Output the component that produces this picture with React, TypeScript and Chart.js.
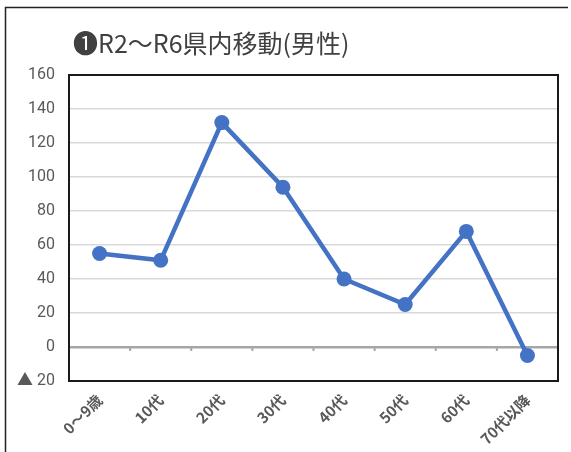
import React, { useEffect, useRef } from "react";
import { Chart, registerables } from "chart.js";

Chart.register(...registerables);

const titleText = "❶R2～R6県内移動(男性)";
const categories = ["0～9歳", "10代", "20代", "30代", "40代", "50代", "60代", "70代以降"];
const values = [55, 51, 132, 94, 40, 25, 68, -5];
const yMin = -20;
const yMax = 160;
const yStep = 20;

const framePlugin = {
  id: "framePlugin",
  beforeDraw(chart: any) {
    const ctx = chart.ctx;
    ctx.save();
    ctx.fillStyle = "#ffffff";
    ctx.fillRect(0, 0, chart.width, chart.height);
    ctx.strokeStyle = "#222222";
    ctx.lineWidth = 1.5;
    ctx.beginPath();
    ctx.moveTo(5.5, chart.height);
    ctx.lineTo(5.5, 7.5);
    ctx.lineTo(568, 7.5);
    ctx.stroke();
    ctx.fillStyle = "#404040";
    ctx.font = '25px "Noto Sans CJK JP", sans-serif';
    ctx.textBaseline = "alphabetic";
    ctx.fillText(titleText, 73, 53);
    ctx.restore();
  },
  beforeDatasetsDraw(chart: any) {
    const ctx = chart.ctx;
    const { left, top, right, bottom } = chart.chartArea;
    const xs = chart.scales.x;
    const ys = chart.scales.y;
    const y0 = ys.getPixelForValue(0);
    const half = (xs.getPixelForValue(1) - xs.getPixelForValue(0)) / 2;
    ctx.save();
    ctx.strokeStyle = "#a6a6a6";
    ctx.lineWidth = 2;
    for (let i = 0; i <= categories.length; i++) {
      const x = xs.getPixelForValue(0) - half + i * half * 2;
      ctx.beginPath();
      ctx.moveTo(x, y0);
      ctx.lineTo(x, y0 + 4);
      ctx.stroke();
    }
    ctx.strokeStyle = "#1a1a1a";
    ctx.lineWidth = 2;
    ctx.strokeRect(left, top, right - left, bottom - top);
    ctx.restore();
  },
};

export default function App() {
  const ref = useRef<HTMLCanvasElement | null>(null);
  useEffect(() => {
    if (!ref.current) return;
    const chart = new Chart(ref.current, {
      type: "line",
      data: {
        labels: categories,
        datasets: [
          {
            data: values,
            borderColor: "#4472C4",
            backgroundColor: "#4472C4",
            borderWidth: 4.5,
            pointRadius: 7.5,
            pointHoverRadius: 7.5,
            pointBorderWidth: 0,
            tension: 0,
          },
        ],
      },
      options: {
        animation: false,
        responsive: false,
        maintainAspectRatio: false,
        layout: { padding: { top: 75, right: 13, left: 0, bottom: 0 } },
        plugins: {
          legend: { display: false },
          title: { display: false },
          tooltip: { enabled: false },
        },
        scales: {
          x: {
            offset: true,
            grid: { display: false, drawTicks: false },
            border: { display: false },
            ticks: {
              minRotation: 45,
              maxRotation: 45,
              padding: 10,
              color: "#595959",
              font: { family: '"Noto Sans CJK JP", sans-serif', size: 15, weight: "bold" },
            },
            afterFit(scale: any) {
              scale.height = 71;
            },
          },
          y: {
            min: yMin,
            max: yMax,
            border: { display: false },
            grid: {
              drawTicks: false,
              color: (c: any) =>
                c.tick && c.tick.value === 0
                  ? "#a6a6a6"
                  : c.tick && (c.tick.value === yMin || c.tick.value === yMax)
                  ? "rgba(0,0,0,0)"
                  : "#d9d9d9",
              lineWidth: (c: any) => (c.tick && c.tick.value === 0 ? 2.5 : 1.5),
            },
            ticks: {
              stepSize: yStep,
              padding: 14,
              color: "#595959",
              font: { family: 'Roboto, "Noto Sans CJK JP", sans-serif', size: 16 },
              callback: (v: any) => (Number(v) < 0 ? "▲ " + Math.abs(Number(v)) : String(v)),
            },
            afterFit(scale: any) {
              scale.width = 69;
            },
          },
        },
      },
      plugins: [framePlugin],
    });
    return () => chart.destroy();
  }, []);
  return (
    <div style={{ position: "absolute", left: 0, top: 0, width: 571, height: 452 }}>
      <canvas ref={ref} width={571} height={452} style={{ width: 571, height: 452, display: "block" }} />
    </div>
  );
}
